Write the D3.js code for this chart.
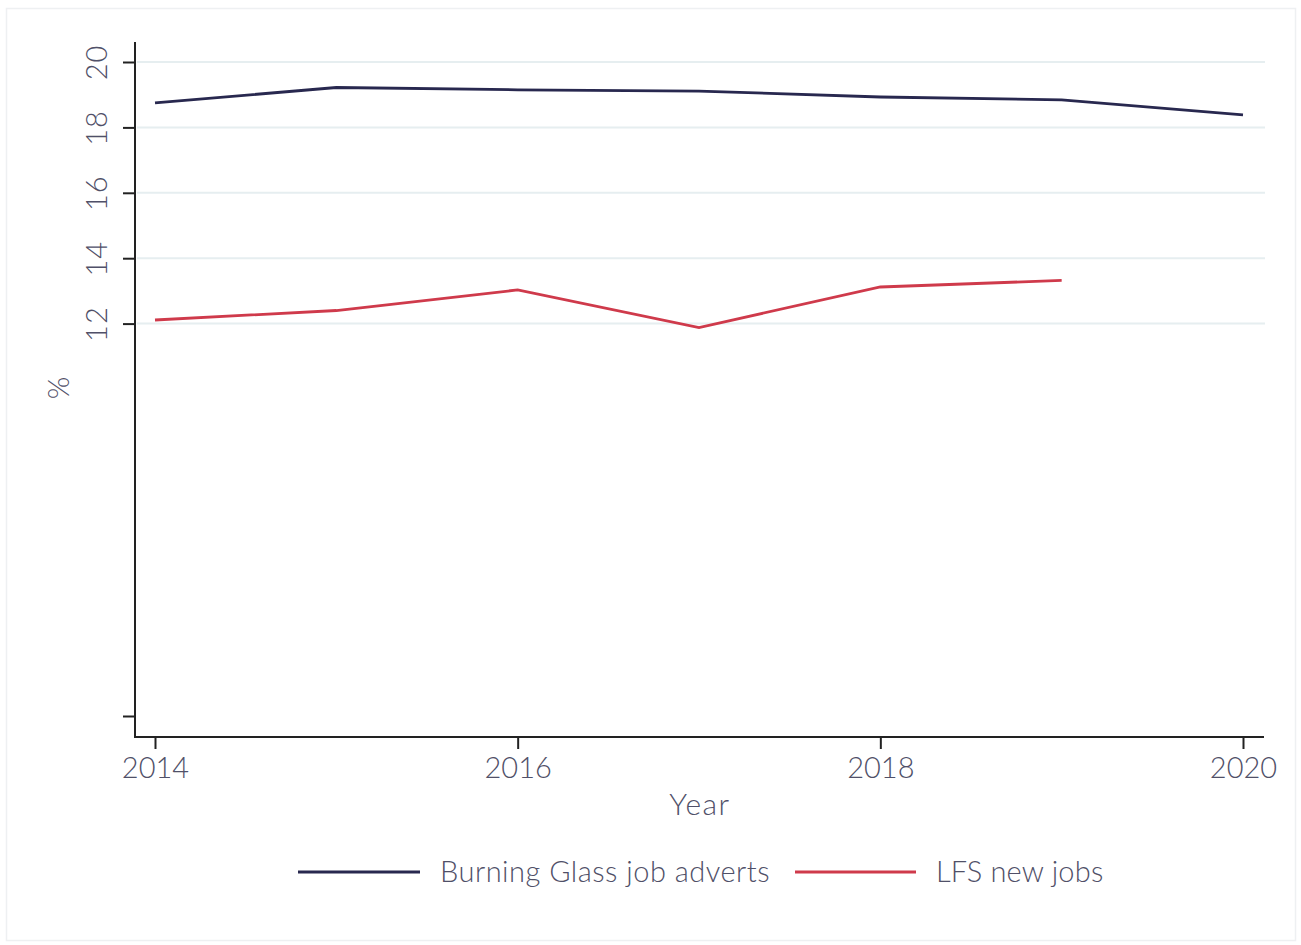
<!DOCTYPE html>
<html>
<head>
<meta charset="utf-8">
<script src="https://cdn.jsdelivr.net/npm/d3@7"></script>
<style>
  html, body { margin: 0; padding: 0; background: #fff; }
  svg { display: block; }
  text { font-family: Lato, "Open Sans", sans-serif; font-weight: 300; fill: #505068; }
</style>
</head>
<body>
<svg id="chart" width="1301" height="945"></svg>
<script>
const years = [2014, 2015, 2016, 2017, 2018, 2019, 2020];
const burningGlass = [18.75, 19.22, 19.15, 19.11, 18.93, 18.84, 18.38];
const lfsYears = [2014, 2015, 2016, 2017, 2018, 2019];
const lfsNewJobs = [12.11, 12.40, 13.03, 11.88, 13.12, 13.32];
const yTicks = [0, 12, 14, 16, 18, 20];
const yTickLabels = ["", "12", "14", "16", "18", "20"];
const xTicks = [2014, 2016, 2018, 2020];
const seriesNames = ["Burning Glass job adverts", "LFS new jobs"];
const colors = ["#28284f", "#cf3a4b"];

const svg = d3.select("#chart");

// outer faint border
svg.append("rect").attr("x", 6.5).attr("y", 8.5).attr("width", 1289).attr("height", 932)
  .attr("fill", "none").attr("stroke", "#eef0f2").attr("stroke-width", 1.5);

const x = d3.scaleLinear().domain([2014, 2020]).range([155, 1243]);
const y = d3.scaleLinear().domain([0, 20]).range([716, 62]);
const plotLeft = 135, plotRight = 1264, plotTop = 42, plotBottom = 737;

// gridlines
svg.append("g").selectAll("line").data(yTicks.filter(d => d > 0)).join("line")
  .attr("x1", plotLeft + 2).attr("x2", plotRight + 1)
  .attr("y1", d => y(d)).attr("y2", d => y(d))
  .attr("stroke", "#e6eef0").attr("stroke-width", 2);

// y axis
const yAxis = d3.axisLeft(y).tickValues(yTicks).tickSize(12).tickFormat((d, i) => yTickLabels[i]);
const gy = svg.append("g").attr("transform", `translate(${plotLeft},0)`).call(yAxis);
gy.select(".domain").remove();
gy.selectAll(".tick line").attr("stroke", "#222").attr("stroke-width", 2);
gy.selectAll(".tick text")
  .attr("font-size", 29).attr("fill", "#505068")
  .attr("transform", d => `translate(-38,0) rotate(-90)`)
  .attr("x", 0).attr("dy", "0.36em").attr("text-anchor", "middle")
  .style("letter-spacing", "1px")
  .style("font-family", "Lato, sans-serif").style("font-weight", 300);
svg.append("line").attr("x1", plotLeft).attr("x2", plotLeft).attr("y1", plotTop).attr("y2", plotBottom + 1)
  .attr("stroke", "#222").attr("stroke-width", 2);

// x axis
const xAxis = d3.axisBottom(x).tickValues(xTicks).tickSize(12).tickFormat(d3.format("d"));
const gx = svg.append("g").attr("transform", `translate(0,${plotBottom})`).call(xAxis);
gx.select(".domain").remove();
gx.selectAll(".tick line").attr("stroke", "#222").attr("stroke-width", 2);
gx.selectAll(".tick text").attr("font-size", 29).attr("y", 20).attr("fill", "#505068")
  .style("font-family", "Lato, sans-serif").style("font-weight", 300);
svg.append("line").attr("x1", plotLeft - 1).attr("x2", plotRight).attr("y1", plotBottom).attr("y2", plotBottom)
  .attr("stroke", "#222").attr("stroke-width", 2);

// axis titles
svg.append("text").attr("x", 700).attr("y", 815).attr("text-anchor", "middle")
  .attr("font-size", 30).style("letter-spacing", "1.5px").text("Year");
svg.append("text").attr("transform", "translate(69,388) rotate(-90)").attr("text-anchor", "middle")
  .attr("font-size", 29).text("%");

// lines
const line = d3.line().x(d => x(d[0])).y(d => y(d[1]));
svg.append("path").datum(years.map((yr, i) => [yr, burningGlass[i]]))
  .attr("d", line).attr("fill", "none").attr("stroke", colors[0]).attr("stroke-width", 2.8);
svg.append("path").datum(lfsYears.map((yr, i) => [yr, lfsNewJobs[i]]))
  .attr("d", line).attr("fill", "none").attr("stroke", colors[1]).attr("stroke-width", 2.8);

// legend
const legendItems = [
  { x1: 298, x2: 420, tx: 440, name: seriesNames[0], color: colors[0], ls: 0.5 },
  { x1: 795, x2: 916, tx: 936, name: seriesNames[1], color: colors[1], ls: 0.2 }
];
const lg = svg.append("g");
legendItems.forEach(it => {
  lg.append("line").attr("x1", it.x1).attr("x2", it.x2).attr("y1", 872).attr("y2", 872)
    .attr("stroke", it.color).attr("stroke-width", 3);
  lg.append("text").attr("x", it.tx).attr("y", 872).attr("dy", "0.35em")
    .attr("font-size", 29).style("letter-spacing", it.ls + "px").text(it.name);
});
</script>
</body>
</html>
